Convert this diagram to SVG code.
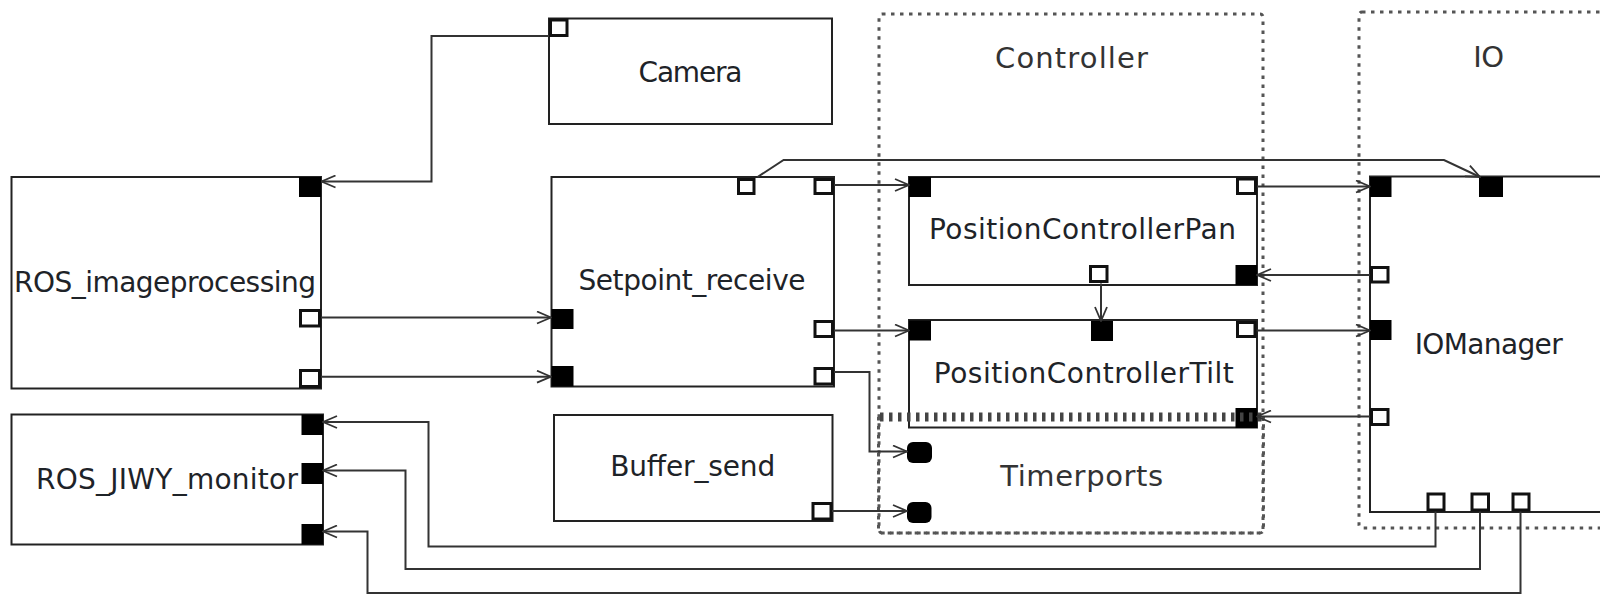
<svg xmlns="http://www.w3.org/2000/svg" width="1600" height="596" viewBox="0 0 1600 596">
  <defs>
    <style>
      .box { fill: #ffffff; stroke: #222222; stroke-width: 2; }
      .grp { fill: none; stroke: #555555; stroke-width: 3; stroke-dasharray: 3.5 5.5; }
      .grp-heavy { fill: none; stroke: #444444; stroke-width: 9; stroke-dasharray: 3.5 5.5; }
      .fp { fill: #000000; }
      .op { fill: #ffffff; stroke: #111111; stroke-width: 3; }
      .tp { fill: #000000; }
      .wire { fill: none; stroke: #333333; stroke-width: 2; marker-end: url(#arrow); }
      .lbl { font-family: "DejaVu Sans", "Liberation Sans", sans-serif; font-size: 28px; fill: #1e2328; text-anchor: middle; }
      .glbl { font-family: "DejaVu Sans", "Liberation Sans", sans-serif; font-size: 29px; fill: #333333; text-anchor: middle; }
    </style>
    <marker id="arrow" viewBox="0 0 16 14" refX="15" refY="7" markerWidth="16" markerHeight="14" markerUnits="userSpaceOnUse" orient="auto">
      <path d="M1,1 L15,7 L1,13" fill="none" stroke="#333333" stroke-width="1.8"/>
    </marker>
  </defs>

  <rect width="1600" height="596" fill="#ffffff"/>

  <!-- component groups -->
  <g id="group-controller">
    <rect class="grp" x="879" y="14" width="384" height="519" rx="3"/>
    <text class="glbl" x="1071.5" y="68.3" textLength="153">Controller</text>
  </g>
  <g id="group-io">
    <rect class="grp" x="1359" y="12" width="262" height="516" rx="3"/>
    <text class="glbl" x="1488.7" y="66.7" textLength="31">IO</text>
  </g>

  <!-- nodes -->
  <g id="camera">
    <rect class="box" x="549" y="18.5" width="283" height="105.5"/>
    <rect class="op" x="550.5" y="20" width="16.5" height="15.5"/>
    <text class="lbl" x="690.5" y="81.7" textLength="104">Camera</text>
  </g>

  <g id="ros-imageprocessing">
    <rect class="box" x="11.5" y="177" width="309.5" height="211.5"/>
    <rect class="fp" x="299" y="177" width="22" height="20"/>
    <rect class="op" x="300.5" y="310.5" width="19" height="15.5"/>
    <rect class="op" x="300.5" y="370.5" width="19" height="16"/>
    <text class="lbl" x="165" y="291.7" textLength="302">ROS_imageprocessing</text>
  </g>

  <g id="setpoint-receive">
    <rect class="box" x="551.5" y="177" width="282.5" height="209.5"/>
    <rect class="op" x="738.5" y="179.5" width="15.5" height="14"/>
    <rect class="op" x="815" y="179.5" width="17.5" height="14"/>
    <rect class="fp" x="551.5" y="309" width="22" height="20"/>
    <rect class="fp" x="551.5" y="366" width="22" height="20.5"/>
    <rect class="op" x="815" y="321.5" width="17.5" height="15"/>
    <rect class="op" x="815" y="368.5" width="17.5" height="15.5"/>
    <text class="lbl" x="692" y="290" textLength="227">Setpoint_receive</text>
  </g>

  <g id="buffer-send">
    <rect class="box" x="554" y="415" width="278.5" height="106"/>
    <rect class="op" x="813" y="503.5" width="18" height="15.5"/>
    <text class="lbl" x="692.7" y="476" textLength="165">Buffer_send</text>
  </g>

  <g id="ros-jiwy-monitor">
    <rect class="box" x="11.5" y="414.5" width="311.5" height="130"/>
    <rect class="fp" x="301.5" y="414.5" width="21.5" height="20.5"/>
    <rect class="fp" x="301.5" y="463" width="21.5" height="21"/>
    <rect class="fp" x="301.5" y="524" width="21.5" height="20.5"/>
    <text class="lbl" x="167" y="488.7" textLength="262">ROS_JIWY_monitor</text>
  </g>

  <g id="position-controller-pan">
    <rect class="box" x="909" y="177" width="348" height="108"/>
    <rect class="fp" x="909" y="177" width="22" height="20"/>
    <rect class="op" x="1237.5" y="179" width="18" height="14.5"/>
    <rect class="op" x="1090.5" y="266.5" width="16.5" height="15"/>
    <rect class="fp" x="1235.5" y="265" width="21.5" height="20"/>
    <text class="lbl" x="1082.5" y="239.3" textLength="307">PositionControllerPan</text>
  </g>

  <g id="position-controller-tilt">
    <rect class="box" x="909" y="320" width="348" height="107.5"/>
    <rect class="fp" x="909" y="320.5" width="22" height="20"/>
    <rect class="fp" x="1091" y="321" width="22" height="20"/>
    <rect class="op" x="1237.5" y="322.5" width="17.5" height="14"/>
    <rect class="fp" x="1235.5" y="408" width="21.5" height="20"/>
    <text class="lbl" x="1083.8" y="382.7" textLength="300">PositionControllerTilt</text>
  </g>

  <g id="iomanager">
    <rect class="box" x="1370" y="176.5" width="270" height="335.5"/>
    <rect class="fp" x="1370" y="177" width="21.5" height="20"/>
    <rect class="fp" x="1479" y="177" width="24" height="20"/>
    <rect class="op" x="1371.5" y="267.5" width="16.5" height="14.5"/>
    <rect class="fp" x="1370" y="320" width="21.5" height="20"/>
    <rect class="op" x="1371.5" y="409.5" width="16.5" height="15"/>
    <rect class="op" x="1428" y="494" width="16" height="16"/>
    <rect class="op" x="1472" y="494" width="16.5" height="16"/>
    <rect class="op" x="1513" y="494" width="16" height="16"/>
    <text class="lbl" x="1488.7" y="354.3" textLength="148">IOManager</text>
  </g>

  <g id="group-timerports">
    <path class="grp" d="M878.5,417 V529 Q878.5,533 882.5,533 H1259.5 Q1263.5,533 1263.5,529 V417"/>
    <line class="grp-heavy" x1="880" y1="417" x2="1262" y2="417"/>
    <rect class="tp" x="907" y="442" width="25" height="21" rx="6"/>
    <rect class="tp" x="907" y="502" width="24.5" height="21" rx="6"/>
    <text class="glbl" x="1081.7" y="486" textLength="163">Timerports</text>
  </g>

  <!-- connectors -->
  <g id="connectors">
    <path class="wire" d="M549,36 H431.5 V181.5 H321.5"/>
    <path class="wire" d="M321,317.5 H551"/>
    <path class="wire" d="M321,376.7 H551"/>
    <path class="wire" d="M834,185 H909"/>
    <path class="wire" d="M757.5,177 L783.6,160 H1444 L1480,177"/>
    <path class="wire" d="M834,330.5 H909"/>
    <path class="wire" d="M834,372 H869.5 V451.5 H907"/>
    <path class="wire" d="M832,511 H907"/>
    <path class="wire" d="M1257,186.5 H1370"/>
    <path class="wire" d="M1370,275 H1257"/>
    <path class="wire" d="M1101,283.5 V321"/>
    <path class="wire" d="M1256.5,330.5 H1370"/>
    <path class="wire" d="M1370,416.5 H1257"/>
    <path class="wire" d="M1435.5,511.5 V546.5 H428.5 V422 H323"/>
    <path class="wire" d="M1480,511.5 V569 H405.5 V470.5 H323"/>
    <path class="wire" d="M1520.5,511.5 V593 H367.5 V531.5 H323"/>
  </g>
</svg>
